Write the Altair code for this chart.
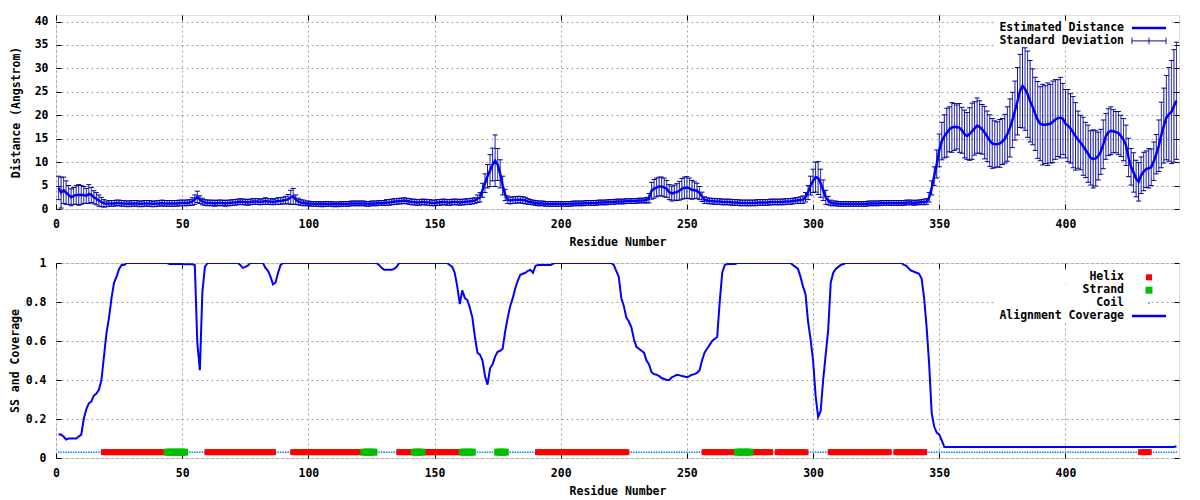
import math
import altair as alt
import pandas as pd

# ---------------- data ----------------
RESIDUES = list(range(1, 445))

DIST = [
    4.5, 3.5, 4.0, 3.5, 3.0, 2.5, 2.8, 3.0, 3.0, 3.0,
    3.0, 2.8, 3.2, 3.0, 2.5, 2.2, 1.8, 1.5, 1.2, 1.1,
    1.2, 1.2, 1.2, 1.3, 1.3, 1.2, 1.2, 1.1, 1.1, 1.2,
    1.2, 1.2, 1.1, 1.1, 1.2, 1.2, 1.2, 1.1, 1.1, 1.2,
    1.2, 1.3, 1.2, 1.2, 1.2, 1.2, 1.2, 1.2, 1.3, 1.3,
    1.3, 1.3, 1.4, 1.6, 2.0, 2.6, 2.0, 1.6, 1.4, 1.3,
    1.3, 1.3, 1.2, 1.3, 1.3, 1.3, 1.2, 1.3, 1.3, 1.4,
    1.4, 1.5, 1.6, 1.5, 1.5, 1.4, 1.5, 1.6, 1.6, 1.6,
    1.5, 1.6, 1.7, 1.6, 1.6, 1.5, 1.6, 1.7, 1.7, 1.8,
    1.9, 2.1, 2.5, 2.7, 2.0, 1.6, 1.4, 1.3, 1.2, 1.2,
    1.1, 1.1, 1.1, 1.1, 1.0, 1.0, 1.1, 1.1, 1.1, 1.0,
    1.0, 1.0, 1.1, 1.1, 1.1, 1.1, 1.2, 1.2, 1.2, 1.2,
    1.2, 1.2, 1.1, 1.1, 1.2, 1.2, 1.2, 1.3, 1.3, 1.3,
    1.4, 1.4, 1.5, 1.6, 1.6, 1.7, 1.7, 1.8, 1.7, 1.6,
    1.5, 1.5, 1.4, 1.4, 1.5, 1.5, 1.4, 1.4, 1.3, 1.3,
    1.4, 1.4, 1.5, 1.5, 1.4, 1.4, 1.5, 1.5, 1.5, 1.4,
    1.5, 1.5, 1.6, 1.6, 1.7, 1.8, 2.2, 2.5, 4.0, 5.5,
    7.0, 8.2, 9.5, 10.3, 9.5, 7.5, 5.0, 3.0, 2.0, 1.8,
    1.9, 1.9, 2.0, 2.0, 1.9, 1.8, 1.6, 1.5, 1.4, 1.3,
    1.2, 1.2, 1.2, 1.1, 1.1, 1.1, 1.1, 1.1, 1.1, 1.1,
    1.1, 1.1, 1.1, 1.1, 1.2, 1.2, 1.2, 1.2, 1.2, 1.3,
    1.3, 1.3, 1.3, 1.3, 1.4, 1.4, 1.4, 1.4, 1.5, 1.5,
    1.5, 1.6, 1.6, 1.6, 1.6, 1.7, 1.7, 1.7, 1.7, 1.7,
    1.8, 1.8, 1.8, 1.9, 2.3, 3.9, 4.3, 4.6, 4.8, 4.8,
    4.6, 4.3, 3.6, 3.3, 3.5, 3.6, 3.9, 4.3, 4.5, 4.6,
    4.4, 4.1, 4.0, 3.9, 3.4, 2.6, 1.9, 1.8, 1.7, 1.7,
    1.6, 1.6, 1.6, 1.5, 1.5, 1.5, 1.5, 1.4, 1.4, 1.4,
    1.3, 1.3, 1.3, 1.3, 1.3, 1.3, 1.3, 1.4, 1.4, 1.4,
    1.4, 1.4, 1.5, 1.5, 1.5, 1.5, 1.5, 1.5, 1.6, 1.6,
    1.6, 1.7, 1.8, 1.8, 1.9, 2.0, 2.5, 3.5, 5.0, 6.0,
    6.8, 6.6, 5.5, 4.0, 2.5, 1.8, 1.3, 1.2, 1.2, 1.1,
    1.1, 1.1, 1.1, 1.1, 1.1, 1.1, 1.1, 1.1, 1.1, 1.1,
    1.1, 1.2, 1.2, 1.2, 1.2, 1.2, 1.3, 1.3, 1.3, 1.3,
    1.3, 1.3, 1.3, 1.3, 1.3, 1.3, 1.4, 1.4, 1.4, 1.3,
    1.4, 1.4, 1.5, 1.5, 1.6, 2.5, 4.5, 7.0, 9.6, 12.5,
    14.5, 15.5, 16.3, 17.0, 17.4, 17.5, 17.5, 17.3, 16.8, 16.0,
    15.6, 16.0, 16.6, 17.2, 17.8, 17.5, 17.0, 16.3, 15.5, 14.6,
    14.0, 13.8, 13.8, 14.0, 14.4, 15.0, 16.0, 17.3, 19.0, 21.0,
    23.0, 25.2, 26.3, 25.6, 24.5, 23.0, 21.8, 20.3, 19.0, 18.2,
    18.0, 18.0, 18.1, 18.2, 18.6, 19.1, 19.4, 19.5, 19.2, 18.2,
    17.8, 17.2, 16.4, 15.5, 14.8, 14.2, 13.4, 12.6, 11.8, 10.9,
    10.7, 10.8, 11.3, 12.2, 13.8, 15.5, 16.4, 16.7, 16.6, 16.4,
    16.2, 15.6, 14.8, 13.6, 11.0, 9.0, 7.8, 6.5, 5.8, 7.2,
    8.0, 8.5, 8.7, 8.9, 10.2, 11.7, 13.5, 15.8, 17.8, 19.5,
    20.2, 20.7, 22.0, 23.1,
]

SD = [
    2.5, 3.3, 2.8, 2.5, 2.0, 1.8, 1.8, 2.0, 2.2, 2.0,
    1.8, 1.6, 2.0, 1.6, 1.4, 1.3, 1.2, 1.0, 0.8, 0.6,
    0.6, 0.6, 0.6, 0.6, 0.6, 0.6, 0.6, 0.6, 0.6, 0.6,
    0.6, 0.6, 0.6, 0.6, 0.6, 0.6, 0.6, 0.6, 0.6, 0.6,
    0.6, 0.6, 0.6, 0.6, 0.6, 0.6, 0.6, 0.6, 0.6, 0.6,
    0.6, 0.6, 0.6, 0.8, 1.0, 1.2, 0.8, 0.7, 0.6, 0.6,
    0.6, 0.6, 0.6, 0.6, 0.6, 0.6, 0.6, 0.6, 0.6, 0.6,
    0.6, 0.6, 0.6, 0.6, 0.6, 0.6, 0.6, 0.6, 0.6, 0.6,
    0.6, 0.6, 0.7, 0.6, 0.6, 0.6, 0.6, 0.7, 0.7, 0.7,
    0.8, 1.0, 1.5, 1.7, 1.0, 0.7, 0.6, 0.6, 0.5, 0.5,
    0.5, 0.5, 0.5, 0.5, 0.5, 0.5, 0.5, 0.5, 0.5, 0.5,
    0.5, 0.5, 0.5, 0.5, 0.5, 0.5, 0.5, 0.5, 0.5, 0.5,
    0.5, 0.5, 0.5, 0.5, 0.5, 0.5, 0.5, 0.5, 0.5, 0.5,
    0.6, 0.6, 0.6, 0.6, 0.6, 0.6, 0.6, 0.6, 0.6, 0.6,
    0.6, 0.6, 0.6, 0.6, 0.6, 0.6, 0.6, 0.6, 0.6, 0.6,
    0.6, 0.6, 0.6, 0.6, 0.6, 0.6, 0.6, 0.6, 0.6, 0.6,
    0.6, 0.6, 0.6, 0.6, 0.6, 0.6, 0.8, 1.0, 1.5, 2.0,
    2.5, 3.4, 3.5, 5.5, 3.4, 3.0, 2.0, 1.2, 0.8, 0.7,
    0.7, 0.7, 0.7, 0.7, 0.7, 0.7, 0.6, 0.5, 0.5, 0.5,
    0.5, 0.5, 0.5, 0.5, 0.5, 0.5, 0.5, 0.5, 0.5, 0.5,
    0.5, 0.5, 0.5, 0.5, 0.5, 0.5, 0.5, 0.5, 0.5, 0.5,
    0.5, 0.5, 0.5, 0.5, 0.5, 0.5, 0.5, 0.5, 0.5, 0.5,
    0.5, 0.5, 0.5, 0.5, 0.5, 0.5, 0.5, 0.5, 0.5, 0.5,
    0.5, 0.5, 0.5, 0.6, 1.0, 1.8, 2.0, 2.0, 2.0, 2.0,
    2.0, 1.8, 1.6, 1.6, 1.6, 1.8, 2.0, 2.2, 2.3, 2.3,
    2.2, 2.0, 1.8, 1.6, 1.4, 1.0, 0.7, 0.6, 0.6, 0.6,
    0.6, 0.6, 0.6, 0.6, 0.6, 0.6, 0.6, 0.6, 0.6, 0.6,
    0.6, 0.6, 0.6, 0.6, 0.6, 0.6, 0.6, 0.6, 0.6, 0.6,
    0.6, 0.6, 0.6, 0.6, 0.6, 0.6, 0.6, 0.6, 0.6, 0.6,
    0.6, 0.6, 0.6, 0.6, 0.7, 0.8, 1.0, 1.5, 2.0, 2.5,
    3.2, 3.5, 3.0, 2.2, 1.5, 0.9, 0.6, 0.5, 0.5, 0.5,
    0.5, 0.5, 0.5, 0.5, 0.5, 0.5, 0.5, 0.5, 0.5, 0.5,
    0.5, 0.5, 0.5, 0.5, 0.5, 0.5, 0.5, 0.5, 0.5, 0.5,
    0.5, 0.5, 0.5, 0.5, 0.5, 0.5, 0.5, 0.5, 0.5, 0.5,
    0.5, 0.5, 0.5, 0.6, 0.6, 1.0, 1.5, 2.0, 3.0, 3.5,
    4.0, 4.6, 5.2, 4.8, 5.3, 5.0, 4.7, 5.2, 4.9, 5.1,
    5.0, 5.6, 6.0, 5.7, 5.9, 5.6, 5.3, 5.6, 5.4, 5.5,
    5.3, 5.0, 4.8, 5.1, 4.9, 5.2, 5.8, 6.2, 5.9, 6.3,
    7.2, 7.8, 9.0, 8.8, 9.2, 8.7, 8.1, 7.8, 8.2, 7.9,
    8.6, 8.3, 8.8, 8.4, 8.7, 8.5, 8.2, 8.6, 7.6, 7.3,
    7.7, 7.4, 7.6, 7.2, 6.1, 5.8, 6.2, 5.9, 6.1, 5.8,
    6.2, 5.9, 5.1, 4.8, 5.2, 4.9, 5.0, 5.1, 4.6, 4.4,
    4.6, 4.4, 4.5, 4.3, 4.1, 3.9, 4.2, 3.9, 4.1, 3.9,
    4.1, 3.9, 4.2, 3.9, 4.1, 4.2, 5.5, 7.0, 8.0, 9.0,
    10.0, 11.0, 12.0, 12.5,
]

COVERAGE = [
    0.12, 0.12, 0.11, 0.095, 0.10, 0.10, 0.10, 0.10, 0.11, 0.12,
    0.20, 0.25, 0.28, 0.29, 0.32, 0.33, 0.35, 0.40, 0.52, 0.64,
    0.72, 0.82, 0.90, 0.93, 0.97, 0.99, 0.99, 1.0, 1.0, 1.0,
    1.0, 1.0, 1.0, 1.0, 1.0, 1.0, 1.0, 1.0, 1.0, 1.0,
    1.0, 1.0, 1.0, 1.0, 0.995, 0.995, 0.995, 0.995, 0.995, 0.995,
    0.993, 0.993, 0.993, 0.993, 0.99, 0.59, 0.45, 0.85, 0.98, 1.0,
    1.0, 1.0, 1.0, 1.0, 1.0, 1.0, 1.0, 1.0, 1.0, 1.0,
    1.0, 1.0, 0.99, 0.975, 0.98, 0.986, 1.0, 1.0, 1.0, 1.0,
    1.0, 1.0, 0.975, 0.96, 0.93, 0.89, 0.90, 0.95, 0.99, 1.0,
    1.0, 1.0, 1.0, 1.0, 1.0, 1.0, 1.0, 1.0, 1.0, 1.0,
    1.0, 1.0, 1.0, 1.0, 1.0, 1.0, 1.0, 1.0, 1.0, 1.0,
    1.0, 1.0, 1.0, 1.0, 1.0, 1.0, 1.0, 1.0, 1.0, 1.0,
    1.0, 1.0, 1.0, 1.0, 1.0, 1.0, 1.0, 0.99, 0.975, 0.966,
    0.966, 0.966, 0.966, 0.97, 0.98, 1.0, 1.0, 1.0, 1.0, 1.0,
    1.0, 1.0, 1.0, 1.0, 1.0, 1.0, 1.0, 1.0, 1.0, 1.0,
    1.0, 1.0, 1.0, 1.0, 1.0, 0.99, 0.98, 0.95, 0.88, 0.79,
    0.86, 0.82, 0.81, 0.77, 0.72, 0.62, 0.54, 0.53, 0.50, 0.42,
    0.376, 0.46, 0.48, 0.52, 0.545, 0.55, 0.56, 0.65, 0.72, 0.78,
    0.82, 0.87, 0.91, 0.94, 0.945, 0.95, 0.96, 0.965, 0.95, 0.985,
    0.99, 0.99, 0.99, 0.99, 0.99, 0.99, 0.997, 1.0, 1.0, 1.0,
    1.0, 1.0, 1.0, 1.0, 1.0, 1.0, 1.0, 1.0, 1.0, 1.0,
    1.0, 1.0, 1.0, 1.0, 1.0, 1.0, 1.0, 1.0, 1.0, 1.0,
    0.99, 0.96, 0.93, 0.82, 0.78, 0.72, 0.70, 0.67, 0.61, 0.57,
    0.56, 0.55, 0.54, 0.50, 0.48, 0.44, 0.43, 0.427, 0.42, 0.41,
    0.405, 0.40, 0.40, 0.414, 0.42, 0.427, 0.425, 0.42, 0.418, 0.414,
    0.42, 0.427, 0.43, 0.436, 0.45, 0.50, 0.54, 0.56, 0.58, 0.60,
    0.61, 0.62, 0.80, 0.95, 0.99, 0.995, 0.995, 0.995, 0.995, 1.0,
    1.0, 1.0, 1.0, 1.0, 1.0, 1.0, 1.0, 1.0, 1.0, 1.0,
    1.0, 1.0, 1.0, 1.0, 1.0, 1.0, 1.0, 1.0, 1.0, 1.0,
    1.0, 0.99, 0.98, 0.97, 0.93, 0.88, 0.84, 0.70, 0.61, 0.50,
    0.32, 0.21, 0.24, 0.40, 0.53, 0.66, 0.90, 0.95, 0.97, 0.98,
    0.99, 0.995, 1.0, 1.0, 1.0, 1.0, 1.0, 1.0, 1.0, 1.0,
    1.0, 1.0, 1.0, 1.0, 1.0, 1.0, 1.0, 1.0, 1.0, 1.0,
    1.0, 1.0, 1.0, 1.0, 1.0, 0.99, 0.985, 0.97, 0.96, 0.955,
    0.95, 0.945, 0.92, 0.82, 0.67, 0.48, 0.23, 0.16, 0.13, 0.12,
    0.09, 0.056, 0.056, 0.056, 0.056, 0.056, 0.056, 0.056, 0.056, 0.056,
    0.056, 0.056, 0.056, 0.056, 0.056, 0.056, 0.056, 0.056, 0.056, 0.056,
    0.056, 0.056, 0.056, 0.056, 0.056, 0.056, 0.056, 0.056, 0.056, 0.056,
    0.056, 0.056, 0.056, 0.056, 0.056, 0.056, 0.056, 0.056, 0.056, 0.056,
    0.056, 0.056, 0.056, 0.056, 0.056, 0.056, 0.056, 0.056, 0.056, 0.056,
    0.056, 0.056, 0.056, 0.056, 0.056, 0.056, 0.056, 0.056, 0.056, 0.056,
    0.056, 0.056, 0.056, 0.056, 0.056, 0.056, 0.056, 0.056, 0.056, 0.056,
    0.056, 0.056, 0.056, 0.056, 0.056, 0.056, 0.056, 0.056, 0.056, 0.056,
    0.056, 0.056, 0.056, 0.056, 0.056, 0.056, 0.056, 0.056, 0.056, 0.056,
    0.056, 0.056, 0.056, 0.06,
]

HELIX_SEGMENTS = [(19, 43), (60, 86), (94, 121), (136, 141), (146, 160),
                  (191, 226), (257, 266), (268, 269), (276, 283), (286, 297),
                  (307, 330), (333, 344), (430, 433)]
STRAND_SEGMENTS = [(44, 51), (122, 126), (142, 145), (161, 165), (175, 178),
                   (270, 275)]
SS_LEVEL = 0.03

X_TICKS = [0, 50, 100, 150, 200, 250, 300, 350, 400]
Y1_TICKS = [0, 5, 10, 15, 20, 25, 30, 35, 40]
Y2_TICKS = [0, 0.2, 0.4, 0.6, 0.8, 1.0]

LBL_DIST = "Estimated Distance"
LBL_SD = "Standard Deviation"
LBL_HELIX = "Helix"
LBL_STRAND = "Strand"
LBL_COIL = "Coil"
LBL_COV = "Alignment Coverage"

assert len(DIST) == len(RESIDUES) == len(SD) == len(COVERAGE)

# ---------------- style ----------------
FONT = "DejaVu Sans Mono"
FS = 11.5
BLUE = "#0000ff"
NAVY = "#000099"
RED = "#ff0000"
GREEN = "#00c000"
COIL_BLUE = "#0080ff"
GRID = "#a0a0a0"

W = 1123
H1 = 194
H2 = 195
X_MAX = 445
Y1_MAX = 41.4

# legend layout (relative to each plot area)
LEG_BOX_LEFT = W - 185
LEG_SYMBOL_CX = W - 30
LEG_LABEL_RIGHT = W - 55
LEG_ROW0_TOP = 13.0
LEG_ROW0_BOTTOM = 14.3
LEG_ROW_H = 12.9
LEG_SYM = 121  # symbol box 11px; paths below reach +-3.1 box half-widths
LINE_PATH = "M-3.1,0H3.1"
ERR_PATH = "M-3.1,0H3.1M-3.1,-0.6V0.6M3.1,-0.6V0.6M0,-0.6V0.6"

TEXT = dict(labelFont=FONT, labelFontSize=FS, labelFontWeight="bold",
            labelColor="black", titleFont=FONT, titleFontSize=FS,
            titleFontWeight="bold", titleColor="black")


def main_axis(orient, values, title, label_pad, title_pad, fmt):
    return alt.Axis(orient=orient, values=values, title=title, grid=True,
                    gridColor=GRID, gridDash=[2, 3], gridWidth=1, ticks=False,
                    domain=False, labelPadding=label_pad,
                    titlePadding=title_pad, format=fmt, labelFlush=False,
                    labelOverlap=False, **TEXT)


def tick_axis(orient, values):
    return alt.Axis(orient=orient, values=values, title=None, labels=False,
                    grid=False, domain=False, ticks=True, tickSize=5,
                    offset=-5, tickColor="black", tickWidth=1)


def legend(row0, row, symbol_size, stroke_width, **kw):
    # white key box starting at LEG_BOX_LEFT, symbol centred at LEG_SYMBOL_CX,
    # label right-aligned at LEG_LABEL_RIGHT
    s = max(math.ceil(math.sqrt(symbol_size) + stroke_width), FS)
    lx = LEG_BOX_LEFT
    ly = row0 + row * LEG_ROW_H - s / 2
    sym_off = LEG_SYMBOL_CX - lx - s / 2
    label_off = LEG_LABEL_RIGHT - LEG_SYMBOL_CX - s / 2
    return alt.Legend(orient="none", legendX=lx, legendY=ly,
                      labelOffset={"expr": f"{label_off:.2f}"}, title=None,
                      padding=0, symbolOffset=sym_off, fillColor="white",
                      labelAlign="right", labelBaseline="middle",
                      labelFont=FONT, labelFontSize=FS,
                      labelFontWeight="bold", labelColor="black",
                      labelLimit=400, symbolSize=symbol_size,
                      symbolStrokeWidth=stroke_width, **kw)


# ---------------- tables ----------------
top_df = pd.DataFrame({"residue": RESIDUES, "dist": DIST, "sd": SD})
top_df["lo"] = top_df["dist"] - top_df["sd"]
top_df["hi"] = top_df["dist"] + top_df["sd"]
top_df["line_label"] = LBL_DIST
top_df["err_label"] = LBL_SD

ss = {}
for a, b in HELIX_SEGMENTS:
    for r in range(a, b + 1):
        ss[r] = "H"
for a, b in STRAND_SEGMENTS:
    for r in range(a, b + 1):
        ss[r] = "E"
bot_df = pd.DataFrame({"residue": RESIDUES, "coverage": COVERAGE})
bot_df["ss"] = [ss.get(r, "C") for r in RESIDUES]
bot_df["ss_y"] = SS_LEVEL
bot_df["cov_label"] = LBL_COV
bot_df["helix_label"] = LBL_HELIX
bot_df["strand_label"] = LBL_STRAND
bot_df["coil_label"] = LBL_COIL

xs = alt.Scale(domain=[0, X_MAX], nice=False, zero=False)
y1s = alt.Scale(domain=[0, Y1_MAX], nice=False, zero=False)
y2s = alt.Scale(domain=[0, 1], nice=False, zero=False)

# ---------------- top chart ----------------
tb = alt.Chart(top_df)
err_rules = tb.mark_rule(color=NAVY, strokeWidth=1, clip=True).encode(
    x=alt.X("residue:Q", scale=xs, axis=tick_axis("bottom", X_TICKS)),
    y=alt.Y("lo:Q", scale=y1s, axis=tick_axis("left", Y1_TICKS)),
    y2="hi:Q",
    strokeDash=alt.StrokeDash(
        "err_label:N",
        scale=alt.Scale(domain=[LBL_SD], range=[[1, 0]]),
        legend=legend(LEG_ROW0_TOP, 1, LEG_SYM, 1, symbolType=ERR_PATH,
                      symbolStrokeColor=NAVY, symbolFillColor="transparent")),
)
caps_lo = tb.mark_tick(color=NAVY, orient="horizontal", size=5, thickness=1,
                       clip=True, opacity=1).encode(
    x=alt.X("residue:Q", scale=xs, axis=tick_axis("top", X_TICKS)),
    y=alt.Y("lo:Q", scale=y1s, axis=tick_axis("right", Y1_TICKS)),
)
caps_hi = tb.mark_tick(color=NAVY, orient="horizontal", size=5, thickness=1,
                       clip=True, opacity=1).encode(
    x=alt.X("residue:Q", scale=xs, axis=None),
    y=alt.Y("hi:Q", scale=y1s, axis=None),
)
dist_line = tb.mark_line(strokeWidth=2.5, clip=True).encode(
    x=alt.X("residue:Q", scale=xs,
            axis=main_axis("bottom", X_TICKS, "Residue Number", 9, 7, "d")),
    y=alt.Y("dist:Q", scale=y1s,
            axis=main_axis("left", Y1_TICKS, "Distance (Angstrom)", 8, 13, "d")),
    color=alt.Color(
        "line_label:N",
        scale=alt.Scale(domain=[LBL_DIST], range=[BLUE]),
        legend=legend(LEG_ROW0_TOP, 0, LEG_SYM, 2.5, symbolType=LINE_PATH,
                      symbolFillColor="transparent")),
)
top = alt.layer(err_rules, caps_lo, caps_hi, dist_line).resolve_axis(
    x="independent", y="independent").properties(width=W, height=H1)

# ---------------- bottom chart ----------------
bb = alt.Chart(bot_df)
coil = bb.transform_filter("datum.ss == 'C'").mark_square(
    size=2.25, color=COIL_BLUE, opacity=1).encode(
    x=alt.X("residue:Q", scale=xs, axis=tick_axis("top", X_TICKS)),
    y=alt.Y("ss_y:Q", scale=y2s, axis=tick_axis("right", Y2_TICKS)),
    opacity=alt.Opacity(
        "coil_label:O", scale=alt.Scale(domain=[LBL_COIL], range=[1]),
        legend=legend(LEG_ROW0_BOTTOM, 2, 2.25, 0, symbolType="square",
                      symbolFillColor=COIL_BLUE)),
)
helix = bb.transform_filter("datum.ss == 'H'").mark_point(
    filled=True, size=36, color=RED, opacity=1).encode(
    x=alt.X("residue:Q", scale=xs, axis=tick_axis("bottom", X_TICKS)),
    y=alt.Y("ss_y:Q", scale=y2s, axis=tick_axis("left", Y2_TICKS)),
    shape=alt.Shape(
        "helix_label:N", scale=alt.Scale(domain=[LBL_HELIX], range=["square"]),
        legend=legend(LEG_ROW0_BOTTOM, 0, 36, 0, symbolType="square",
                      symbolFillColor=RED)),
)
strand = bb.transform_filter("datum.ss == 'E'").mark_square(
    size=49, opacity=1).encode(
    x=alt.X("residue:Q", scale=xs, axis=None),
    y=alt.Y("ss_y:Q", scale=y2s, axis=None),
    fill=alt.Fill(
        "strand_label:N", scale=alt.Scale(domain=[LBL_STRAND], range=[GREEN]),
        legend=legend(LEG_ROW0_BOTTOM, 1, 49, 0, symbolType="square")),
)
cov_line = bb.mark_line(strokeWidth=2, clip=True).encode(
    x=alt.X("residue:Q", scale=xs,
            axis=main_axis("bottom", X_TICKS, "Residue Number", 9, 7, "d")),
    y=alt.Y("coverage:Q", scale=y2s,
            axis=main_axis("left", Y2_TICKS, "SS and Coverage", 10, 5, "~g")),
    stroke=alt.Stroke(
        "cov_label:N", scale=alt.Scale(domain=[LBL_COV], range=[BLUE]),
        legend=legend(LEG_ROW0_BOTTOM, 3, LEG_SYM, 2.5, symbolType=LINE_PATH,
                      symbolFillColor="transparent")),
)
bottom = alt.layer(coil, helix, strand, cov_line).resolve_axis(
    x="independent", y="independent").properties(width=W, height=H2)

chart = alt.vconcat(top, bottom, spacing=7).resolve_scale(
    color="independent", strokeDash="independent", stroke="independent",
    shape="independent", fill="independent", opacity="independent",
).properties(
    padding={"left": 0, "top": 6, "right": 0, "bottom": 0}
).configure_view(stroke="black", strokeWidth=1).configure(font=FONT)

chart.save("out.html", embed_options={"renderer": "svg", "actions": False})
